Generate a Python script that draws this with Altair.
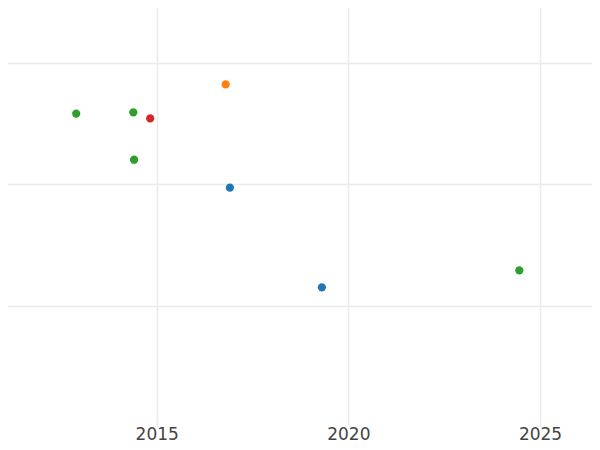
import altair as alt
import pandas as pd

# Data
years = [2012.90, 2014.39, 2014.83, 2014.41, 2016.80, 2016.91, 2019.31, 2024.46]
values = [2.58, 2.59, 2.54, 2.20, 2.82, 1.97, 1.15, 1.29]
groups = ["C", "C", "D", "C", "B", "A", "A", "C"]

df = pd.DataFrame({"year": years, "value": values, "group": groups})

x_ticks = [2015, 2020, 2025]
y_ticks = [1, 2, 3]

chart = (
    alt.Chart(df)
    .mark_circle(size=68, opacity=1)
    .encode(
        x=alt.X(
            "year:Q",
            scale=alt.Scale(domain=[2010.912, 2026.565], nice=False, zero=False),
            axis=alt.Axis(
                values=x_ticks,
                format="d",
                title=None,
                domain=False,
                ticks=False,
                labelFontSize=17,
                labelFont="DejaVu Sans",
                labelColor="#444444",
                labelPadding=-1,
                gridColor="#ebebeb",
                gridWidth=1.5,
            ),
        ),
        y=alt.Y(
            "value:Q",
            scale=alt.Scale(domain=[0, 3.515], nice=False, zero=False),
            axis=alt.Axis(
                values=y_ticks,
                title=None,
                domain=False,
                ticks=False,
                labels=False,
                gridColor="#ebebeb",
                gridWidth=1.5,
            ),
        ),
        color=alt.Color(
            "group:N",
            scale=alt.Scale(
                domain=["A", "B", "C", "D"],
                range=["#1f77b4", "#ff7f0e", "#2ca02c", "#d62728"],
            ),
            legend=None,
        ),
    )
    .properties(
        width=600,
        height=427,
        autosize=alt.AutoSizeParams(type="none"),
        padding={"left": -8, "top": -8, "right": -8, "bottom": 15},
    )
    .configure_view(stroke=None)
)

chart.save("out.html", embed_options={"renderer": "svg", "actions": False})
